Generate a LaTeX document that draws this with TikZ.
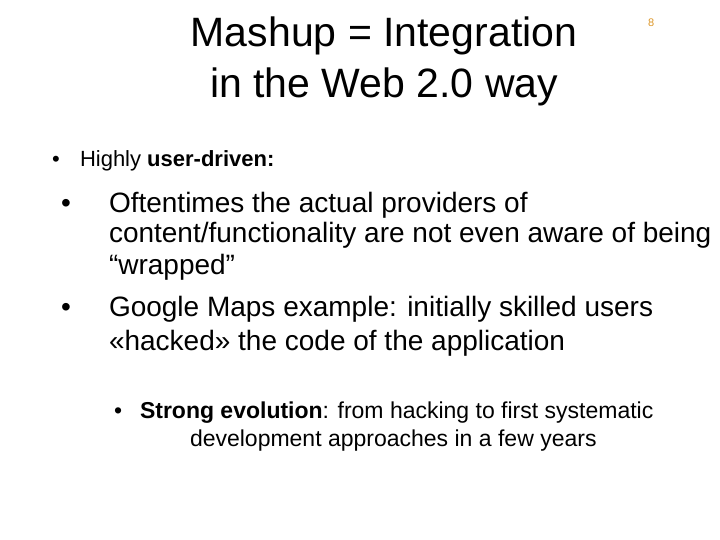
\documentclass[tikz,border=0pt]{standalone}
\usepackage{fontspec}
\setmainfont{Liberation Sans}
\definecolor{numcol}{RGB}{220,150,40}
\begin{document}
\begin{tikzpicture}[x=1pt,y=-1pt,
  txt/.style={anchor=base west,inner sep=0pt,outer sep=0pt},
  ttl/.style={anchor=base,inner sep=0pt,font=\fontsize{41}{44}\selectfont},
  big/.style={txt,font=\fontsize{28}{30}\selectfont},
  mid/.style={txt,font=\fontsize{23}{26}\selectfont},
  sml/.style={txt,font=\fontsize{22}{24}\selectfont}]
\useasboundingbox (0,0) rectangle (720,540);
\node[ttl] (t1) at (384,47) {Mashup = Integration};
\node[ttl] (t2) at (384,98) {in the Web 2.0 way};
\node[txt,font=\fontsize{11}{12}\selectfont,text=numcol] (pg) at (648,27) {8};
\node[sml] (d0) at (52,167) {•};
\node[sml] (b1) at (80,167) {Highly \textbf{user-driven:}};
\node[big] (d1) at (61,212) {•};
\node[big] (l1) at (109,212) {Oftentimes the actual providers of};
\node[big] (l2) at (109,243) {content/functionality are not even aware of being};
\node[big] (l3) at (109,274) {“wrapped”};
\node[big] (d2) at (61,316) {•};
\node[big] (l4) at (109,316) {Google Maps example: initially skilled users};
\node[big] (l5) at (109,350) {«hacked» the code of the application};
\node[mid] (d3) at (114,418) {•};
\node[mid] (s1) at (140,418) {\textbf{Strong evolution}: from hacking to first systematic};
\node[mid] (s2) at (190,446) {development approaches in a few years};
\end{tikzpicture}
\end{document}
